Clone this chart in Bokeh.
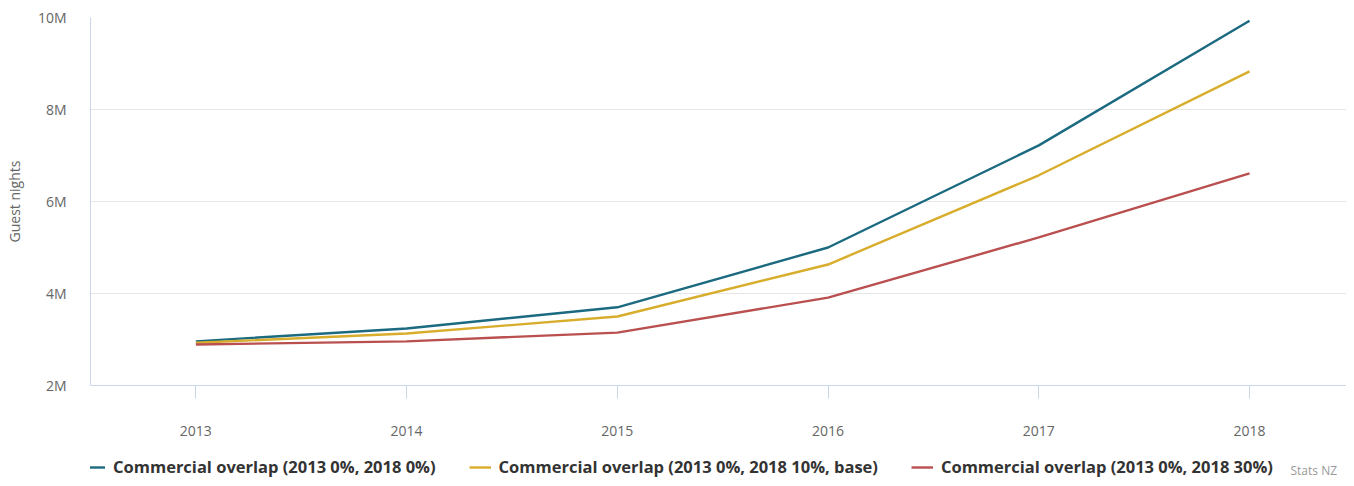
from bokeh.plotting import figure
from bokeh.layouts import column
from bokeh.models import Range1d, FixedTicker, Legend, LegendItem, Label
from bokeh.embed import file_html
from bokeh.resources import INLINE

years = [2013, 2014, 2015, 2016, 2017, 2018]
series_names = [
    "Commercial overlap (2013 0%, 2018 0%)",
    "Commercial overlap (2013 0%, 2018 10%, base)",
    "Commercial overlap (2013 0%, 2018 30%)",
]
blue_vals = [2.96e6, 3.24e6, 3.70e6, 5.00e6, 7.22e6, 9.93e6]
yellow_vals = [2.93e6, 3.13e6, 3.50e6, 4.63e6, 6.57e6, 8.83e6]
red_vals = [2.89e6, 2.96e6, 3.15e6, 3.91e6, 5.22e6, 6.61e6]
colors = ["#1b6a80", "#d8ad2c", "#b9504f"]
y_ticks = [2e6, 4e6, 6e6, 8e6, 10e6]
y_tick_labels = ["2M", "4M", "6M", "8M", "10M"]
x_tick_labels = [str(y) for y in years]
credit_text = "Stats NZ"

W = 1346
p = figure(width=W, height=450, output_backend="svg", toolbar_location=None,
           x_range=Range1d(2012.5, 2018.46), y_range=Range1d(2e6, 10e6),
           min_border_left=90, min_border_right=0, min_border_top=17, min_border_bottom=65)
p.outline_line_color = None
p.background_fill_color = "white"
p.border_fill_color = "white"

series = [blue_vals, yellow_vals, red_vals]
for vals, c in zip(series, colors):
    p.line(years, vals, line_color=c, line_width=2.4)

font = "Open Sans"
# y axis
p.yaxis.ticker = FixedTicker(ticks=y_ticks)
p.yaxis.major_label_overrides = {t: l for t, l in zip(y_ticks, y_tick_labels)}
p.yaxis.major_tick_line_color = None
p.yaxis.minor_tick_line_color = None
p.yaxis.axis_line_color = "#ccd6eb"
p.yaxis.major_label_text_color = "#666666"
p.yaxis.major_label_text_font = font
p.yaxis.major_label_text_font_size = "14px"
p.yaxis.major_label_standoff = 18
p.yaxis.axis_label = "Guest nights"
p.yaxis.axis_label_text_font = font
p.yaxis.axis_label_text_font_style = "normal"
p.yaxis.axis_label_text_font_size = "14px"
p.yaxis.axis_label_text_color = "#666666"
p.yaxis.axis_label_standoff = 11

# x axis
p.xaxis.ticker = FixedTicker(ticks=years)
p.xaxis.major_label_overrides = {y: l for y, l in zip(years, x_tick_labels)}
p.xaxis.axis_line_color = "#ccd6eb"
p.xaxis.major_tick_line_color = "#ccd6eb"
p.xaxis.major_tick_in = 0
p.xaxis.major_tick_out = 13
p.xaxis.minor_tick_line_color = None
p.xaxis.major_label_text_color = "#666666"
p.xaxis.major_label_text_font = font
p.xaxis.major_label_text_font_size = "14px"
p.xaxis.major_label_standoff = 27

p.xgrid.grid_line_color = None
p.ygrid.grid_line_color = "#e6e6e6"
p.ygrid.ticker = FixedTicker(ticks=y_ticks)

# legend strip (no axes); its lines carry the same series but lie outside its view
q = figure(width=W, height=28, output_backend="svg", toolbar_location=None,
           x_axis_type=None, y_axis_type=None,
           x_range=Range1d(0, 1), y_range=Range1d(0, 1),
           min_border_left=0, min_border_right=0, min_border_top=0, min_border_bottom=0)
q.grid.visible = False
q.outline_line_color = None
q.border_fill_color = "white"
q.background_fill_color = "white"
leg_renderers = [q.line(years, vals, line_color=c, line_width=2.4) for vals, c in zip(series, colors)]

legend = Legend(items=[LegendItem(label=n, renderers=[r]) for n, r in zip(series_names, leg_renderers)],
                orientation="horizontal", location=(-7, 0),
                padding=0, margin=0, spacing=33, glyph_width=22, glyph_height=18,
                label_height=18, label_standoff=8,
                label_text_font=font, label_text_font_style="bold",
                label_text_font_size="16.5px", label_text_color="#333333",
                background_fill_alpha=0, border_line_color=None)
q.add_layout(legend, "center")

credit = Label(x=1200, y=0, x_units="screen", y_units="screen", text=credit_text,
               text_font=font, text_font_size="12px", text_color="#999999")
q.add_layout(credit)

open("out.html", "w").write(file_html(column(p, q, spacing=0), INLINE))
